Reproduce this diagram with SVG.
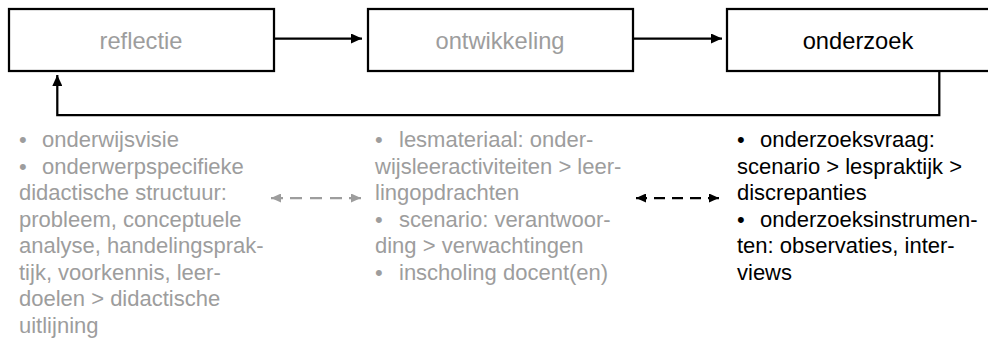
<svg xmlns="http://www.w3.org/2000/svg" width="988" height="340" viewBox="0 0 988 340">
  <defs>
    <marker id="ah" viewBox="0 0 11 10" refX="11" refY="5" markerWidth="11" markerHeight="10" orient="auto-start-reverse" markerUnits="userSpaceOnUse">
      <path d="M0,0 L11,5 L0,10 z" fill="#000"/>
    </marker>
    <marker id="ahd" viewBox="0 0 10 9" refX="10" refY="4.5" markerWidth="10" markerHeight="9" orient="auto-start-reverse" markerUnits="userSpaceOnUse">
      <path d="M0,0 L10,4.5 L0,9 z" fill="#000"/>
    </marker>
    <marker id="ahg" viewBox="0 0 10 9" refX="10" refY="4.5" markerWidth="10" markerHeight="9" orient="auto-start-reverse" markerUnits="userSpaceOnUse">
      <path d="M0,0 L10,4.5 L0,9 z" fill="#9d9d9d"/>
    </marker>
  </defs>
  <style>
    .box { fill: #fff; stroke: #000; stroke-width: 2.25; }
    .lbl { font-family: "Liberation Sans", Arial, sans-serif; font-size: 23.7px; text-anchor: middle; }
    .txt { font-family: "Liberation Sans", Arial, sans-serif; font-size: 22px; }
    .grey { fill: #9d9d9d; }
    .blk { fill: #000; }
    .con { fill: none; stroke: #000; stroke-width: 2.25; }
    .dash { fill: none; stroke-width: 2.25; }
  </style>
  <rect width="988" height="340" fill="#fff"/>
  <g id="connectors">
    <path class="con" d="M274,38.5 H362" marker-end="url(#ah)"/>
    <path class="con" d="M633,38.5 H722" marker-end="url(#ah)"/>
    <path class="con" d="M939.3,71 V115 H57.3 V75" marker-end="url(#ah)"/>
    <path class="dash" stroke="#9d9d9d" stroke-dasharray="12 7 12 8 12 8 12 7 12" d="M271,198 H361" marker-start="url(#ahg)" marker-end="url(#ahg)"/>
    <path class="dash" stroke="#000" stroke-dasharray="11 7 11 7 11 7 11 7 11" d="M636,198 H719" marker-start="url(#ahd)" marker-end="url(#ahd)"/>
  </g>
  <g id="reflectie">
    <rect class="box" x="9" y="9" width="265" height="62"/>
    <text class="lbl grey" x="141" y="49">reflectie</text>
  </g>
  <g id="ontwikkeling">
    <rect class="box" x="368" y="9" width="265" height="62"/>
    <text class="lbl grey" x="500" y="49">ontwikkeling</text>
  </g>
  <g id="onderzoek">
    <rect class="box" x="727" y="9" width="264" height="62"/>
    <text class="lbl blk" x="858" y="49">onderzoek</text>
  </g>
  <g id="notes-reflectie" class="txt grey">
    <text x="19" y="147"><tspan>•</tspan><tspan x="42">onderwijsvisie</tspan></text>
    <text x="19" y="173.5"><tspan>•</tspan><tspan x="42">onderwerpspecifieke</tspan></text>
    <text x="19" y="200">didactische structuur:</text>
    <text x="19" y="226.5">probleem, conceptuele</text>
    <text x="19" y="253">analyse, handelingsprak-</text>
    <text x="19" y="279.5">tijk, voorkennis, leer-</text>
    <text x="19" y="306">doelen &gt; didactische</text>
    <text x="19" y="332.5">uitlijning</text>
  </g>
  <g id="notes-ontwikkeling" class="txt grey">
    <text x="375" y="147"><tspan>•</tspan><tspan x="399">lesmateriaal: onder-</tspan></text>
    <text x="375" y="173.5">wijsleeractiviteiten &gt; leer-</text>
    <text x="375" y="200">lingopdrachten</text>
    <text x="375" y="226.5"><tspan>•</tspan><tspan x="399">scenario: verantwoor-</tspan></text>
    <text x="375" y="253">ding &gt; verwachtingen</text>
    <text x="375" y="279.5"><tspan>•</tspan><tspan x="399">inscholing docent(en)</tspan></text>
  </g>
  <g id="notes-onderzoek" class="txt blk">
    <text x="737" y="147"><tspan>•</tspan><tspan x="760">onderzoeksvraag:</tspan></text>
    <text x="737" y="173.5">scenario &gt; lespraktijk &gt;</text>
    <text x="737" y="200">discrepanties</text>
    <text x="737" y="226.5"><tspan>•</tspan><tspan x="760">onderzoeksinstrumen-</tspan></text>
    <text x="737" y="253">ten: observaties, inter-</text>
    <text x="737" y="279.5">views</text>
  </g>
</svg>
